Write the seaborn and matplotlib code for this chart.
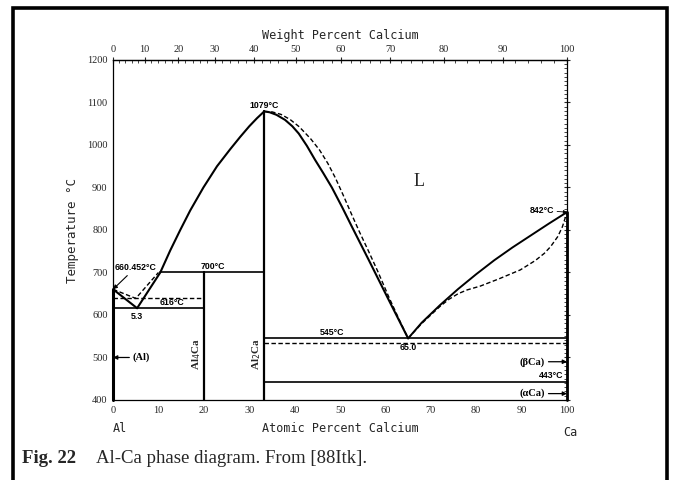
import numpy as np
import pandas as pd
import matplotlib
matplotlib.use("Agg")
import matplotlib.pyplot as plt
import seaborn as sns
from matplotlib.patches import Rectangle
from matplotlib.ticker import MultipleLocator

# ---------------- data (atomic % Ca, temperature in °C) ----------------
al_liq_x = [0.0, 5.3]
al_liq_T = [660.452, 616.0]
al_liq_dash_x = [0.0, 5.0, 10.0]
al_liq_dash_T = [660.452, 639.0, 700.0]

left_liq_x = [5.3, 10.4, 12.6, 14.8, 17.0, 19.9, 22.9, 25.8, 28.0, 30.0, 31.7, 33.3]
left_liq_T = [616, 700, 752, 800, 846, 900, 950, 990, 1019, 1044, 1063, 1079]

right_liq_x = [33.3, 34.5, 36.0, 37.9, 39.5, 40.9, 42.7, 44.5, 46.3, 48.2, 50.5, 52.6, 56.3, 60.7, 65.0]
right_liq_T = [1079, 1077, 1071, 1059, 1044, 1027, 998, 965, 934, 900, 853, 808, 730, 636, 545]
right_liq_dash_x = [33.3, 35.0, 37.0, 39.0, 41.0, 43.5, 45.5, 47.3, 49.0, 50.7, 52.5, 54.3, 56.2, 58.3, 60.8, 63.0, 65.0]
right_liq_dash_T = [1079, 1078, 1072, 1060, 1043, 1015, 988, 957, 922, 882, 838, 795, 752, 703, 641, 590, 545]

ca_liq_x = [65.0, 68.0, 72.0, 76.0, 80.0, 84.0, 88.0, 92.0, 96.0, 100.0]
ca_liq_T = [545, 582, 623, 661, 696, 729, 759, 787, 815, 842]
ca_liq_dash_x = [65.0, 68.0, 72.0, 74.0, 76.0, 78.0, 80.9, 85.0, 89.7, 93.0, 95.0, 96.4, 98.0, 99.0, 100.0]
ca_liq_dash_T = [545, 580, 620, 637, 650, 659, 668, 685, 706, 728, 745, 761, 785, 808, 842]

# invariant lines: (x start, x end, temperature)
inv_solid = [(0.0, 20.0, 616), (10.4, 33.3, 700), (33.3, 100.0, 545), (33.3, 100.0, 443)]
inv_dashed = [(0.0, 20.0, 639), (33.3, 100.0, 534)]

# compounds: (label, composition, lower T, upper T)
compounds = [("Al$_4$Ca", 20.0, 400, 700), ("Al$_2$Ca", 33.3, 400, 1079)]

T_melt_Al = 660.452
T_melt_Ca = 842
T_congruent = 1079
eut1_x, eut1_T = 5.3, 616
eut2_x, eut2_T = 65.0, 545
T_peritectic = 700
T_allotropic = 443

M_AL, M_CA = 26.98, 40.08

# ---------------- figure ----------------
sns.set_style("white")
plt.rcParams['font.family'] = ['Liberation Sans', 'DejaVu Sans']

fig = plt.figure(figsize=(6.73, 4.80), dpi=100)
ax = fig.add_axes([0.168, 0.1667, 0.6745, 0.7083])

def draw(x, y, dashed=False, lw=1.3):
    sns.lineplot(x=x, y=y, ax=ax, color="black", lw=lw, sort=False, estimator=None,
                 linestyle=(0, (3.2, 1.8)) if dashed else "-", legend=False)

draw(al_liq_x, al_liq_T, lw=1.5)
draw(al_liq_dash_x, al_liq_dash_T, dashed=True, lw=1.0)
draw(left_liq_x, left_liq_T, lw=1.5)
draw(right_liq_x, right_liq_T, lw=1.5)
draw(right_liq_dash_x, right_liq_dash_T, dashed=True, lw=1.0)
draw(ca_liq_x, ca_liq_T, lw=1.4)
draw(ca_liq_dash_x, ca_liq_dash_T, dashed=True, lw=1.0)

for x0, x1, t in inv_solid:
    draw([x0, x1], [t, t], lw=1.2)
for x0, x1, t in inv_dashed:
    draw([x0, x1], [t, t], dashed=True, lw=1.0)
for name, xc, t0, t1 in compounds:
    draw([xc, xc], [t0, t1], lw=1.6)

# terminal solid solutions on the axes
l1, = ax.plot([0, 0], [400, T_melt_Al], color="black", lw=2.2)
l2, = ax.plot([100, 100], [400, T_melt_Ca], color="black", lw=2.0)
l1.set_clip_on(False); l2.set_clip_on(False)

ax.set_xlim(0, 100)
ax.set_ylim(400, 1200)
ax.xaxis.set_major_locator(MultipleLocator(10))
ax.xaxis.set_minor_locator(MultipleLocator(2))
ax.yaxis.set_major_locator(MultipleLocator(100))
ax.yaxis.set_minor_locator(MultipleLocator(10))
ax.tick_params(axis="both", which="major", direction="inout", length=5, width=0.8,
               labelsize=7.5, pad=1.5)
ax.tick_params(axis="both", which="minor", direction="in", length=2, width=0.6)
ax.tick_params(axis="y", which="both", right=True)
ax.tick_params(axis="x", which="both", top=False)
for lab in ax.get_xticklabels() + ax.get_yticklabels():
    lab.set_family("Liberation Serif")
for s in ax.spines.values():
    s.set_linewidth(0.9)
    s.set_color("black")
ax.set_xlabel("")
ax.set_ylabel("")

def at2wt(a):
    a = np.asarray(a, dtype=float)
    with np.errstate(divide="ignore", invalid="ignore"):
        return 100 * a * M_CA / (a * M_CA + (100 - a) * M_AL)

def wt2at(w):
    w = np.asarray(w, dtype=float)
    with np.errstate(divide="ignore", invalid="ignore"):
        return 100 * (w / M_CA) / (w / M_CA + (100 - w) / M_AL)

sec = ax.secondary_xaxis("top", functions=(at2wt, wt2at))
sec.xaxis.set_major_locator(MultipleLocator(10))
sec.xaxis.set_minor_locator(MultipleLocator(2))
sec.tick_params(which="major", direction="inout", length=5, width=0.8, labelsize=7.5, pad=1.5)
sec.tick_params(which="minor", direction="in", length=2, width=0.6)
for lab in sec.get_xticklabels():
    lab.set_family("Liberation Serif")
sec.spines["top"].set_linewidth(0.9)

# axis titles
mono = "DejaVu Sans Mono"
fig.text(0.506, 0.927, "Weight Percent Calcium", ha="center", va="center",
         fontsize=8.5, family=mono)
fig.text(0.506, 0.108, "Atomic Percent Calcium", ha="center", va="center",
         fontsize=8.5, family=mono)
fig.text(0.107, 0.52, "Temperature °C", ha="center", va="center", rotation=90,
         fontsize=9, family=mono)
fig.text(0.178, 0.108, "Al", ha="center", va="center", fontsize=8.5, family=mono)
fig.text(0.848, 0.100, "Ca", ha="center", va="center", fontsize=8.5, family=mono)

# annotations
bold = dict(fontsize=6.3, fontweight="bold", color="black")
ax.text(33.3, T_congruent + 4, f"{T_congruent}°C", ha="center", va="bottom", **bold)
ax.annotate(f"{T_melt_Al}°C", xy=(0, T_melt_Al), xytext=(0.3, 711), ha="left", va="center",
            arrowprops=dict(arrowstyle="-|>", color="black", lw=0.8, mutation_scale=6,
                            shrinkA=0, shrinkB=0), **bold)
ax.text(13.0, eut1_T + 3, f"{eut1_T}°C", ha="center", va="bottom", **bold)
ax.text(eut1_x, eut1_T - 8, f"{eut1_x}", ha="center", va="top", **bold)
ax.text(22.0, T_peritectic + 4, f"{T_peritectic}°C", ha="center", va="bottom", **bold)
ax.text(48.2, eut2_T + 4, f"{eut2_T}°C", ha="center", va="bottom", **bold)
ax.text(eut2_x, eut2_T - 12, f"{eut2_x}", ha="center", va="top", **bold)
ax.text(99.3, T_allotropic + 3, f"{T_allotropic}°C", ha="right", va="bottom", **bold)
ax.annotate(f"{T_melt_Ca}°C", xy=(100, T_melt_Ca), xytext=(94.4, 846), ha="center", va="center",
            arrowprops=dict(arrowstyle="-|>", color="black", lw=0.6, mutation_scale=5,
                            shrinkA=0, shrinkB=0), **bold)

arr = dict(arrowstyle="-|>", color="black", lw=0.9, mutation_scale=6, shrinkA=0, shrinkB=0)
lab = dict(fontsize=7.5, fontweight="bold", color="black", family="Liberation Serif")
ax.annotate("(Al)", xy=(0, 500), xytext=(4.3, 500), ha="left", va="center", arrowprops=arr, **lab)
ax.annotate("(βCa)", xy=(100, 490), xytext=(95.2, 490), ha="right", va="center", arrowprops=arr, **lab)
ax.annotate("(αCa)", xy=(100, 415), xytext=(95.2, 415), ha="right", va="center", arrowprops=arr, **lab)

for (name, xc, t0, t1), xt in zip(compounds, [18.4, 31.6]):
    ax.text(xt, 508, name, rotation=90, ha="center", va="center",
            fontsize=8, fontweight="bold", family="Liberation Serif")

ax.text(67.5, 915, "L", ha="center", va="center", fontsize=13, family="Liberation Serif")

# caption
fig.text(0.033, 0.045, "Fig. 22", ha="left", va="center", fontsize=13.5,
         fontweight="bold", family="Liberation Serif")
fig.text(0.142, 0.045, "Al-Ca phase diagram. From [88Itk].", ha="left", va="center",
         fontsize=13.5, family="Liberation Serif")

# outer frame
fig.patches.append(Rectangle((0.019, -0.02), 0.972, 1.003, transform=fig.transFigure,
                             fill=False, lw=2.6, edgecolor="black"))

fig.savefig("out.png", dpi=100)
